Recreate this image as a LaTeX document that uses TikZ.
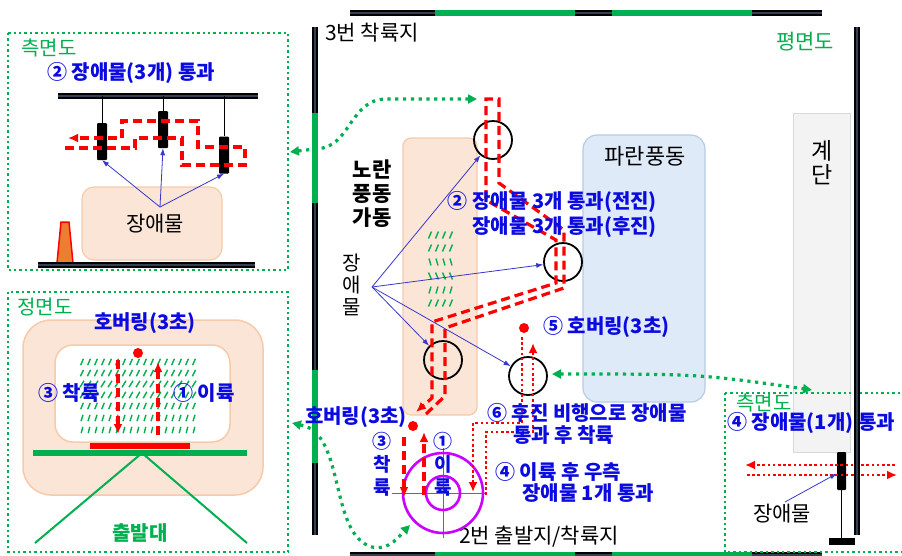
\documentclass[tikz,border=0pt]{standalone}
\usepackage{fontspec}
\setmainfont{Noto Sans CJK KR}
\usetikzlibrary{arrows.meta}
\definecolor{kblue}{RGB}{10,10,225}
\definecolor{khint}{RGB}{55,55,205}
\definecolor{kgreen}{RGB}{0,176,80}
\definecolor{kpeach}{RGB}{251,229,214}
\definecolor{kpeachline}{RGB}{246,203,170}
\definecolor{ksky}{RGB}{222,234,247}
\definecolor{kskyline}{RGB}{184,204,230}
\definecolor{kmag}{RGB}{204,0,255}
\definecolor{kpurple}{RGB}{160,60,210}
\definecolor{kstair}{RGB}{243,243,243}
\definecolor{knavy}{RGB}{52,64,84}
\definecolor{kcone}{RGB}{237,125,49}
\begin{document}
\begin{tikzpicture}[x=1pt,y=-1pt]
	\tikzstyle{every node}+=[inner sep=0pt]
	\tikzstyle{txt}=[font=\fontsize{21}{24}\selectfont]
	\tikzstyle{btxt}=[font=\fontsize{20}{25}\selectfont\bfseries, text=kblue]
	\tikzstyle{gtxt}=[font=\fontsize{20}{22}\selectfont, text=kgreen]
	\tikzstyle{wall}=[line width=1.3pt, double=knavy, double distance=2.6pt]
	\tikzstyle{gate}=[line width=5.2pt, kgreen]
	\tikzstyle{fwd}=[line width=3.2pt, red, dash pattern=on 9pt off 5pt]
	\tikzstyle{dots}=[line width=2.8pt, red, dash pattern=on 2.6pt off 2.6pt]
	\tikzstyle{tip}=[-{Latex[length=10pt,width=9pt]}]
	\tikzstyle{link}=[line width=3.2pt, kgreen, dash pattern=on 3.2pt off 4.6pt, {Triangle[length=9pt,width=9pt]}-{Triangle[length=9pt,width=9pt]}]
	\tikzstyle{inset}=[line width=2.4pt, kgreen, dash pattern=on 2.4pt off 3pt]
	\tikzstyle{hint}=[draw=khint, line width=0.8pt, -{Latex[length=7pt,width=5pt]}]
	\tikzstyle{hoop}=[circle, draw=black, line width=1.8pt, minimum size=38pt]
	\tikzstyle{obst}=[fill=black, rounded corners=1pt, minimum width=10pt, minimum height=37pt]
	\tikzstyle{wind}=[kgreen, line width=1.4pt]
	\useasboundingbox [fill=white] (0,0) rectangle (902,555);
	% plan: stairs and the two wind tunnels
	\draw [fill=kstair, draw=black!15, line width=1pt] (793,113) rectangle (850,452);
	\node [txt, font=\fontsize{23}{24}\selectfont, align=center] (stair) at (822,163) {계\\단};
	\draw [fill=ksky, draw=kskyline, line width=1.2pt, rounded corners=14pt] (583,135) rectangle (705,402);
	\node [txt, font=\fontsize{22}{24}\selectfont] (bluefan) at (645,156) {파란풍동};
	\draw [fill=kpeach, draw=kpeachline, line width=1.2pt, rounded corners=8pt] (403,138) rectangle (477,415);
	\foreach \y/\s in {235/1.5,248/1.5,262/-1,276/-1.5,290/1,303/1.5}
		\foreach \x in {430,437,444,451}
			\draw [wind] (\x-\s,\y+3.5) -- (\x+\s,\y-3.5);
	% plan: walls
	\draw [wall] (350,13) -- (822,13);
	\draw [gate] (435,13) -- (575,13);
	\draw [gate] (612,13) -- (752,13);
	\draw [wall] (350,555) -- (822,555);
	\draw [gate] (435,555) -- (575,555);
	\draw [gate] (612,555) -- (752,555);
	\draw [wall] (315,27) -- (315,535);
	\draw [gate] (315,113) -- (315,203);
	\draw [gate] (315,370) -- (315,463);
	\node [txt, anchor=west] (land3) at (325,33) {3번 착륙지};
	\node [gtxt, font=\fontsize{21}{22}\selectfont, anchor=west] (planttl) at (776,42) {평면도};
	\node [txt] (start2) at (539,537) {2번 출발지/착륙지};
	\node [txt, font=\fontsize{21}{24}\selectfont\bfseries, align=center] (yellowfan) at (372,194) {노란\\풍동\\가동};
	% plan: obstacle rings
	\node [hoop] (c1) at (493,140) {};
	\node [hoop] (c2) at (563,262) {};
	\node [hoop] (c3) at (443,360) {};
	\node [hoop] (c4) at (528,376) {};
	\node [txt, font=\fontsize{20}{22}\selectfont, align=center] (obslbl) at (352,285) {장\\애\\물};
	\coordinate (obs) at (372,287);
	\draw [hint] (obs) -- (c1);
	\draw [hint] (obs) -- (c2);
	\draw [hint] (obs) -- (c3);
	\draw [hint] (obs) -- (c4);
	% plan: landing pad
	\draw [kpurple, line width=1pt] (392,493) -- (485,493);
	\draw [kpurple, line width=1pt] (443,448) -- (443,538);
	\draw [kmag, line width=2.6pt] (443,493) circle (40);
	\draw [kmag, line width=2.6pt] (443,493) circle (17);
	% plan: flight paths
	\draw [fwd, tip] (426,414) -- (445,396) -- (445,328) -- (564,288) -- (564,230) -- (499,183) -- (499,99) -- (486,99) -- (486,200) -- (556,240) -- (556,283) -- (432,322) -- (432,398) -- (416,412);
	\fill [red] (413,426) circle (5);
	\draw [fwd, tip] (404,437) -- (404,497);
	\draw [fwd, tip] (424,495) -- (424,432);
	\draw [dots, tip] (486,495) -- (486,432) -- (533,432) -- (533,343);
	\draw [dots, tip] (522,337) -- (522,423) -- (473,423) -- (473,492);
	\fill [red] (524,328) circle (5);
	\node [btxt] (hover1) at (356,417) {호버링(3초)};
	\node [btxt, align=center, font=\fontsize{19}{23}\selectfont\bfseries] (land1) at (382,464) {③\\착\\륙};
	\node [btxt, align=center, font=\fontsize{19}{23}\selectfont\bfseries] (lift1) at (443,464) {①\\이\\륙};
	\node [btxt, align=right, anchor=east] (pass3) at (657,214) {② 장애물 3개 통과(전진)\\장애물 3개 통과(후진)};
	\node [btxt, anchor=west] (hover5) at (543,327) {⑤ 호버링(3초)};
	\node [btxt, anchor=west] (back6) at (487,413) {⑥ 후진 비행으로 장애물};
	\node [btxt, anchor=west] (back6b) at (513,435) {통과 후 착륙};
	\node [btxt, anchor=west] (right4) at (495,472) {④ 이륙 후 우측};
	\node [btxt, anchor=west] (right4b) at (522,493) {장애물 1개 통과};
	% side view: three obstacles
	\draw [inset] (8,33) rectangle (288,270);
	\node [gtxt, anchor=west] (sidettl) at (21,48) {측면도};
	\node [btxt, anchor=west] (sidesub) at (47,73) {② 장애물(3개) 통과};
	\draw [wall] (58,96) -- (258,96);
	\draw [line width=0.8pt] (102,96) -- (102,123);
	\draw [line width=0.8pt] (163,96) -- (163,111);
	\draw [line width=0.8pt] (224,96) -- (224,136);
	\node [obst] (o1) at (102,141.5) {};
	\node [obst] (o2) at (163,129.5) {};
	\node [obst] (o3) at (224,155) {};
	\draw [fwd, tip] (65,148) -- (135,148) -- (135,138) -- (182,138) -- (182,165) -- (245,165) -- (245,147) -- (198,147) -- (198,121) -- (122,121) -- (122,138) -- (68,138);
	\draw [fill=kpeach, draw=kpeachline, line width=1.2pt, rounded corners=12pt] (82,187) rectangle (222,260);
	\node [txt] (sideobs) at (155,224) {장애물};
	\coordinate (obsA) at (160,207);
	\draw [hint] (obsA) -- (o1.south);
	\draw [hint] (obsA) -- (o2.south);
	\draw [hint] (obsA) -- (o3.south);
	\filldraw [fill=kcone, draw=red, line width=1.5pt] (57,263) -- (61,222) -- (69,222) -- (73,263) -- cycle;
	\draw [wall] (38,265) -- (255,265);
	% front view: take-off stand
	\draw [inset] (8,292) rectangle (288,552);
	\node [gtxt, anchor=west] (frontttl) at (17,307) {정면도};
	\draw [fill=kpeach, draw=kpeachline, line width=1.5pt, rounded corners=28pt] (23,320) rectangle (263,495);
	\draw [fill=white, draw=kpeachline, line width=1.5pt, rounded corners=18pt] (55,345) rectangle (230,442);
	\foreach \y/\s in {362/1.4,373/1.6,384/2.0,395/1.8,406/1.3,418/1.0,430/0.8}
		\foreach \x in {82,89,...,194}
			\draw [wind] (\x-\s,\y+3.2) -- (\x+\s,\y-3.2);
	\node [btxt] (hover0) at (145,323) {호버링(3초)};
	\fill [red] (138,353) circle (5);
	\draw [fwd, tip] (118,360) -- (118,434);
	\draw [fwd, tip] (158,435) -- (158,362);
	\node [btxt] (land0) at (69,393) {③ 착륙};
	\node [btxt] (lift0) at (204,393) {① 이륙};
	\draw [red, line width=6pt] (90,446) -- (190,446);
	\draw [kgreen, line width=6pt] (33,453) -- (247,453);
	\draw [kgreen, line width=2pt] (142,453) -- (35,543);
	\draw [kgreen, line width=2pt] (142,453) -- (247,543);
	\node [gtxt, font=\fontsize{20}{22}\selectfont\bfseries] (stand) at (140,533) {출발대};
	% side view: one obstacle
	\draw [inset] (725,393) rectangle (910,552);
	\node [gtxt, anchor=west] (sidettlB) at (736,403) {측면도};
	\node [btxt, anchor=west] (sidesubB) at (727,423) {④ 장애물(1개) 통과};
	\draw [line width=0.8pt] (841.5,490) -- (841.5,538);
	\fill [black] (829,538) rectangle (855,545);
	\node [obst, minimum width=9pt, minimum height=38pt] (o4) at (841.5,471) {};
	\draw [dots, tip] (895,465) -- (745,465);
	\draw [dots, tip] (747,475) -- (897,475);
	\node [txt] (sideobsB) at (782,514) {장애물};
	\coordinate (obsB) at (785,502);
	\draw [hint] (obsB) -- (o4);
	\draw [wall] (857,27) -- (857,535);
	% links between plan and the side/front views
	\coordinate (sideA) at (290,152);
	\coordinate (ringtop) at (477,99);
	\coordinate (frontA) at (292,423);
	\coordinate (padA) at (410,525);
	\coordinate (ringB) at (552,374);
	\coordinate (sideB) at (812,390);
	\draw [link] (sideA) -- (323,148) .. controls (350,142) and (352,100) .. (385,99) -- (ringtop);
	\draw [link] (frontA) -- (305,426) .. controls (345,440) and (330,535) .. (372,547) .. controls (390,551) and (400,535) .. (padA);
	\draw [link] (ringB) .. controls (700,374) .. (sideB);
\end{tikzpicture}
\end{document}
